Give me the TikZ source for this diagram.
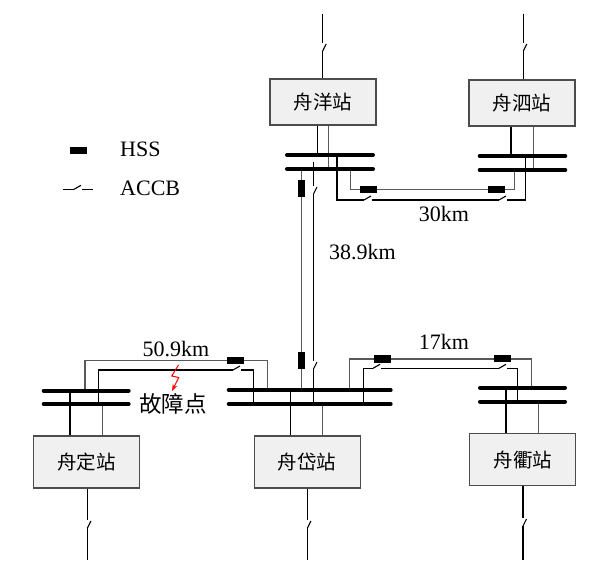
\documentclass[tikz,border=0pt]{standalone}
\usepackage{fontspec}
\setmainfont{Liberation Serif}
\newfontfamily\cjk{Noto Sans CJK SC}
\usetikzlibrary{arrows.meta}
\newcommand\accbh[2]{\fill[white] ({#1-4},{#2-1.5}) rectangle ({#1+4},{#2+1.5}); \draw[wire] ({#1-4},#2) -- ({#1+3},{#2-4});}
\newcommand\accbv[2]{\fill[white] ({#1-1.5},{#2-4}) rectangle ({#1+1.5},{#2+4}); \draw[wire] (#1,{#2+4}) -- ({#1+3.5},{#2-3});}
\begin{document}
\begin{tikzpicture}[x=1pt,y=-1pt,
  wire/.style={line width=1.1pt,black},
  gwire/.style={line width=1.1pt,black!65},
  bus/.style={line width=4pt,line cap=round,black},
  station/.style={draw=black!70,line width=1.3pt,fill=black!6,minimum width=106pt,minimum height=52pt,inner sep=0pt,font=\cjk\fontsize{19.5}{20}\selectfont},
  hssh/.style={fill=black,minimum width=17pt,minimum height=7.5pt,inner sep=0pt},
  hssv/.style={fill=black,minimum width=7.5pt,minimum height=17pt,inner sep=0pt},
  lbl/.style={font=\fontsize{22}{24}\selectfont,inner sep=0pt,anchor=base}
]
\useasboundingbox[fill=white] (0,0) rectangle (606,561);

% ---------- wires ----------
% feeders
\draw[wire] (322.7,14) -- (322.7,79);
\draw[wire] (523.3,14) -- (523.3,80);
\draw[wire] (87.4,488) -- (87.4,560);
\draw[wire] (307.4,488) -- (307.4,560);
\draw[wire] (523,485.6) -- (523,560);
% station to bus lines
\draw[wire] (317.5,125) -- (317.5,155);
\draw[gwire] (328.3,125) -- (328.3,169);
\draw[wire] (511,126) -- (511,156);
\draw[gwire] (533.7,126) -- (533.7,170);
\draw[wire] (290.7,390) -- (290.7,436);
\draw[gwire] (322.3,404) -- (322.3,436);
\draw[wire] (70,390.7) -- (70,436);
\draw[gwire] (102.7,404) -- (102.7,436);
\draw[wire] (506,387.7) -- (506,433.7);
\draw[gwire] (538.3,401.7) -- (538.3,433.7);
% links
\draw[wire] (337,155) -- (337,200) -- (525.3,200) -- (525.3,156);
\draw[gwire] (350.7,169) -- (350.7,189.3) -- (514.3,189.3) -- (514.3,170);
\draw[gwire] (301.7,169) -- (301.7,390);
\draw[wire] (313.5,162) -- (313.5,404);
\draw[gwire] (85,390.7) -- (85,360.7) -- (267.3,360.7) -- (267.3,390);
\draw[wire] (98.3,404) -- (98.3,370) -- (253.3,370) -- (253.3,404);
\draw[gwire] (349.3,390) -- (349.3,359) -- (531.7,359) -- (531.7,387.7);
\draw[wire] (363.3,404) -- (363.3,368.3) -- (517.7,368.3) -- (517.7,401.7);

% ---------- busbars ----------
\draw[bus] (287,155) -- (373,155);
\draw[bus] (287,169) -- (373,169);
\draw[bus] (479.7,156) -- (565.3,156);
\draw[bus] (479.7,170) -- (565.3,170);
\draw[bus] (228.7,390) -- (390.7,390);
\draw[bus] (228.7,404) -- (390.7,404);
\draw[bus] (43.7,390.7) -- (128.7,390.7);
\draw[bus] (43.7,404) -- (128.7,404);
\draw[bus] (480,387.7) -- (565,387.7);
\draw[bus] (480,401.7) -- (565,401.7);

% ---------- ACCB ----------
\accbv{322.7}{47}
\accbv{523.3}{47}
\accbv{87.4}{524}
\accbv{307.4}{524}
\accbv{523}{522}
\accbh{368}{200}
\accbh{503}{200}
\accbv{313.5}{190}
\accbv{313.5}{365}
\accbh{237}{370}
\accbh{377}{368.3}
\accbh{503}{368.3}

% ---------- HSS ----------
\node[hssh] (h1) at (368.5,189.3) {};
\node[hssh] (h2) at (496.5,189.3) {};
\node[hssv] (h3) at (301.7,189) {};
\node[hssv] (h4) at (301.7,361) {};
\node[hssh] (h5) at (235.5,360.7) {};
\node[hssh] (h6) at (382,359) {};
\node[hssh] (h7) at (502,358.7) {};

% ---------- stations ----------
\node[station,minimum height=46pt] (ZY) at (323,102) {舟洋站};
\node[station,minimum height=46pt] (ZS) at (522,103) {舟泗站};
\node[station] (ZDing) at (86.6,462) {舟定站};
\node[station] (ZD) at (307.2,462) {舟岱站};
\node[station] (ZQ) at (522.8,459.6) {舟衢站};

% ---------- legend ----------
\node[hssh] (lh) at (78,150.3) {};
\node[lbl,anchor=base west] (lhs) at (120,157) {HSS};
\draw[wire] (62.7,189.3) coordinate (la) -- (92.7,189.3) coordinate (lb);
\accbh{78}{189.3}
\node[lbl,anchor=base west] (lac) at (120,196) {ACCB};

% ---------- labels ----------
\node[lbl] (d1) at (444,221.7) {30km};
\node[lbl] (d2) at (362.5,260) {38.9km};
\node[lbl] (d3) at (176,357) {50.9km};
\node[lbl] (d4) at (444,350) {17km};
\node[font=\cjk\fontsize{22.5}{24}\selectfont,inner sep=0pt] (fp) at (173,404) {故障点};
\draw[red,line width=1pt,-{Stealth[length=7pt,width=5pt]}] (178.5,365) -- (171.7,376) -- (178.7,377.5) -- (172,391);
\end{tikzpicture}
\end{document}
